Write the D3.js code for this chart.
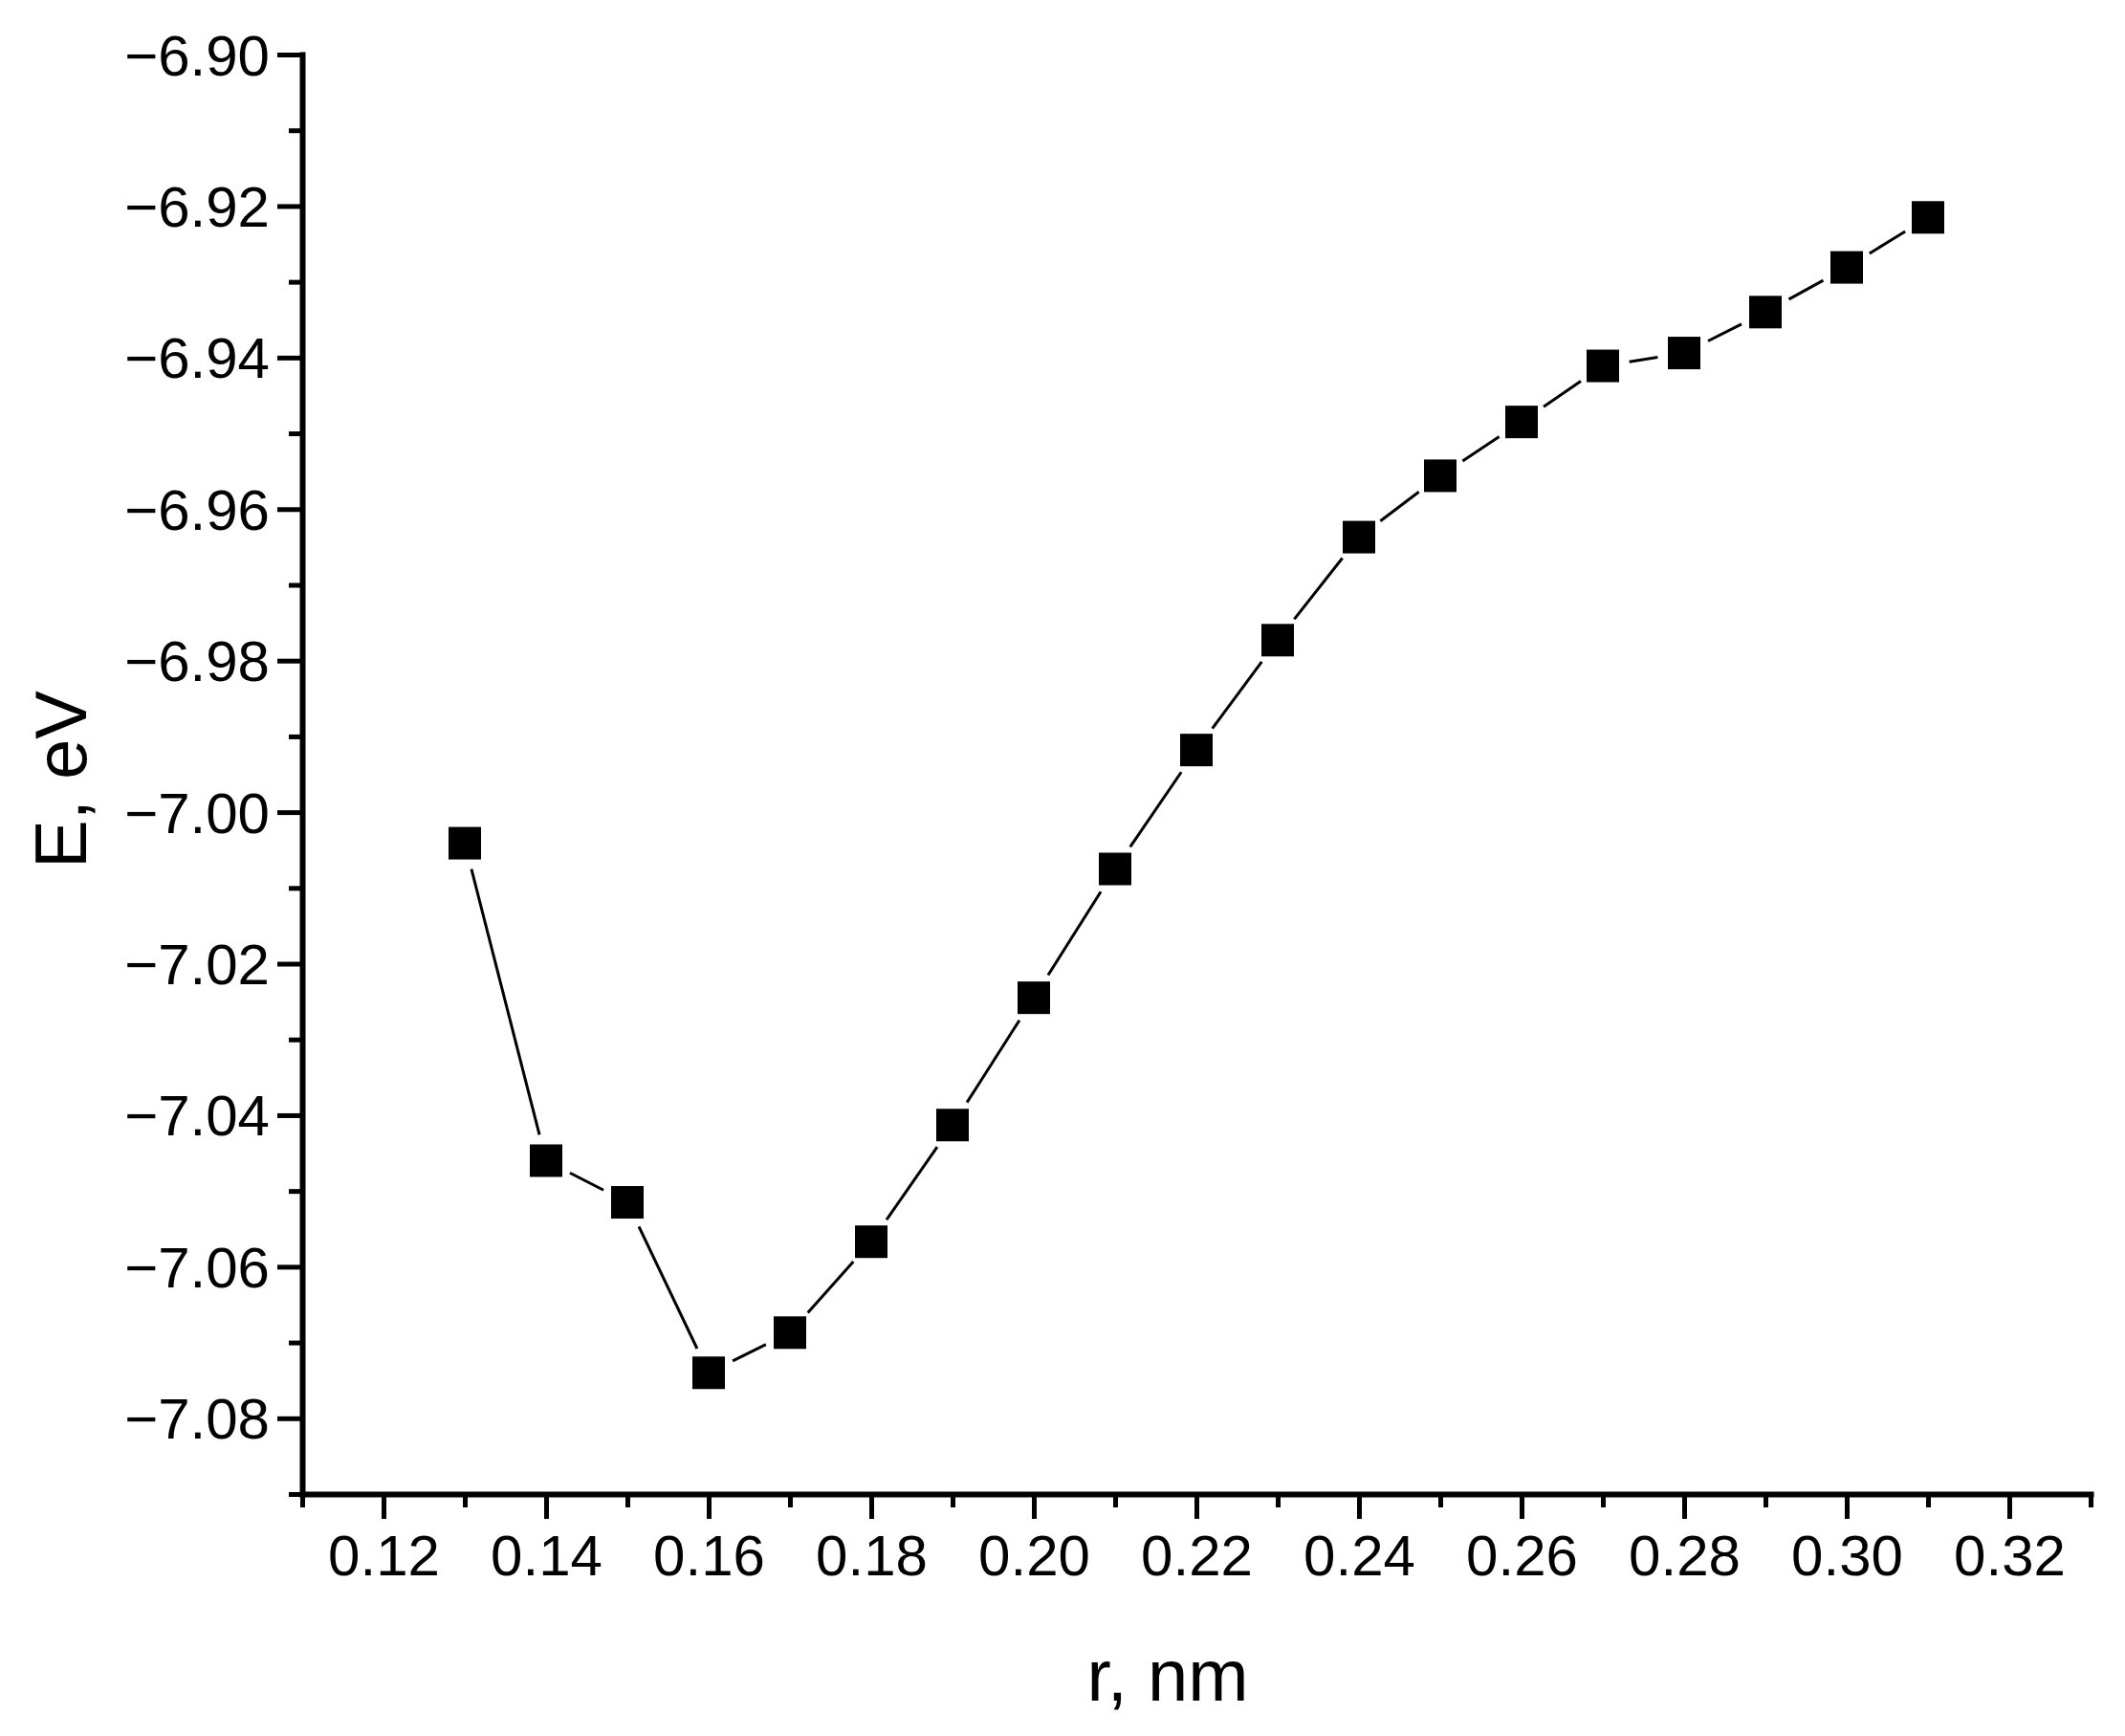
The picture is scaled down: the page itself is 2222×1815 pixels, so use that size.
<!DOCTYPE html>
<html><head><meta charset="utf-8">
<script src="https://cdn.jsdelivr.net/npm/d3@7"></script>
<style>body{margin:0;background:#fff}</style></head>
<body><svg id="c" width="2222" height="1815"></svg>
<script>
const rValues = [0.13,0.14,0.15,0.16,0.17,0.18,0.19,0.20,0.21,0.22,0.23,0.24,0.25,0.26,0.27,0.28,0.29,0.30,0.31];
const eValues = [-7.0041,-7.046,-7.0515,-7.074,-7.0687,-7.0567,-7.0413,-7.0245,-7.0075,-6.9918,-6.9773,-6.9637,-6.9556,-6.9485,-6.9411,-6.9394,-6.9340,-6.9281,-6.9215];
const xTicks = [0.12,0.14,0.16,0.18,0.20,0.22,0.24,0.26,0.28,0.30,0.32];
const yTicks = [-6.90,-6.92,-6.94,-6.96,-6.98,-7.00,-7.02,-7.04,-7.06,-7.08];
const xMinor = [0.11,0.13,0.15,0.17,0.19,0.21,0.23,0.25,0.27,0.29,0.31,0.33];
const yMinor = [-6.91,-6.93,-6.95,-6.97,-6.99,-7.01,-7.03,-7.05,-7.07,-7.09];

const svg = d3.select("#c");
const L=316,R=2186,T=57,B=1562;
const x = d3.scaleLinear().domain([0.11,0.33]).range([L,R]);
const y = d3.scaleLinear().domain([-7.09,-6.90]).range([B,T]);
const font = "'Liberation Sans', Arial, sans-serif";

const gx = svg.append("g").attr("transform",`translate(0,${B})`);
gx.call(d3.axisBottom(x).tickValues(xTicks).tickFormat(d3.format(".2f")).tickSize(26).tickSizeOuter(0).tickPadding(14));
gx.append("g").call(d3.axisBottom(x).tickValues(xMinor).tickFormat("").tickSize(14).tickSizeOuter(0)).select(".domain").remove();
const gy = svg.append("g").attr("transform",`translate(${L},0)`);
gy.call(d3.axisLeft(y).tickValues(yTicks).tickFormat(d3.format(".2f")).tickSize(26).tickSizeOuter(0).tickPadding(8));
gy.append("g").call(d3.axisLeft(y).tickValues(yMinor).tickFormat("").tickSize(14).tickSizeOuter(0)).select(".domain").remove();
svg.selectAll(".domain").attr("stroke","#000").attr("stroke-width",6);
svg.selectAll(".tick line").attr("stroke","#000").attr("stroke-width",5);
svg.selectAll(".tick text").attr("font-family",font).attr("font-size",60).attr("fill","#000");
gx.selectAll(".tick text").attr("dy","0.75em");
gy.selectAll(".tick text").attr("dy","0.35em");
// fix domain ends slightly overextended for thick stroke
svg.selectAll(".domain").attr("stroke-linecap","square");

const pts = rValues.map((r,i)=>[x(r),y(eValues[i])]);
const gap = 28;
for(let i=0;i<pts.length-1;i++){
  const [x1,y1]=pts[i],[x2,y2]=pts[i+1];
  const dx=x2-x1, dy=y2-y1, len=Math.hypot(dx,dy);
  if(len<=2*gap) continue;
  const ux=dx/len, uy=dy/len;
  svg.append("line").attr("x1",x1+ux*gap).attr("y1",y1+uy*gap).attr("x2",x2-ux*gap).attr("y2",y2-uy*gap)
    .attr("stroke","#000").attr("stroke-width",3);
}
const s=34;
svg.append("g").selectAll("rect").data(rValues).join("rect")
  .attr("x",(d)=>x(d)-s/2).attr("y",(d,i)=>y(eValues[i])-s/2).attr("width",s).attr("height",s).attr("fill","#000");

svg.append("text").attr("x",(L+R)/2-30).attr("y",1778).attr("text-anchor","middle")
  .attr("font-family",font).attr("font-size",76).text("r, nm");
svg.append("text").attr("transform","translate(90,815) rotate(-90)").attr("text-anchor","middle")
  .attr("font-family",font).attr("font-size",76).text("E,  eV");
</script></body></html>
